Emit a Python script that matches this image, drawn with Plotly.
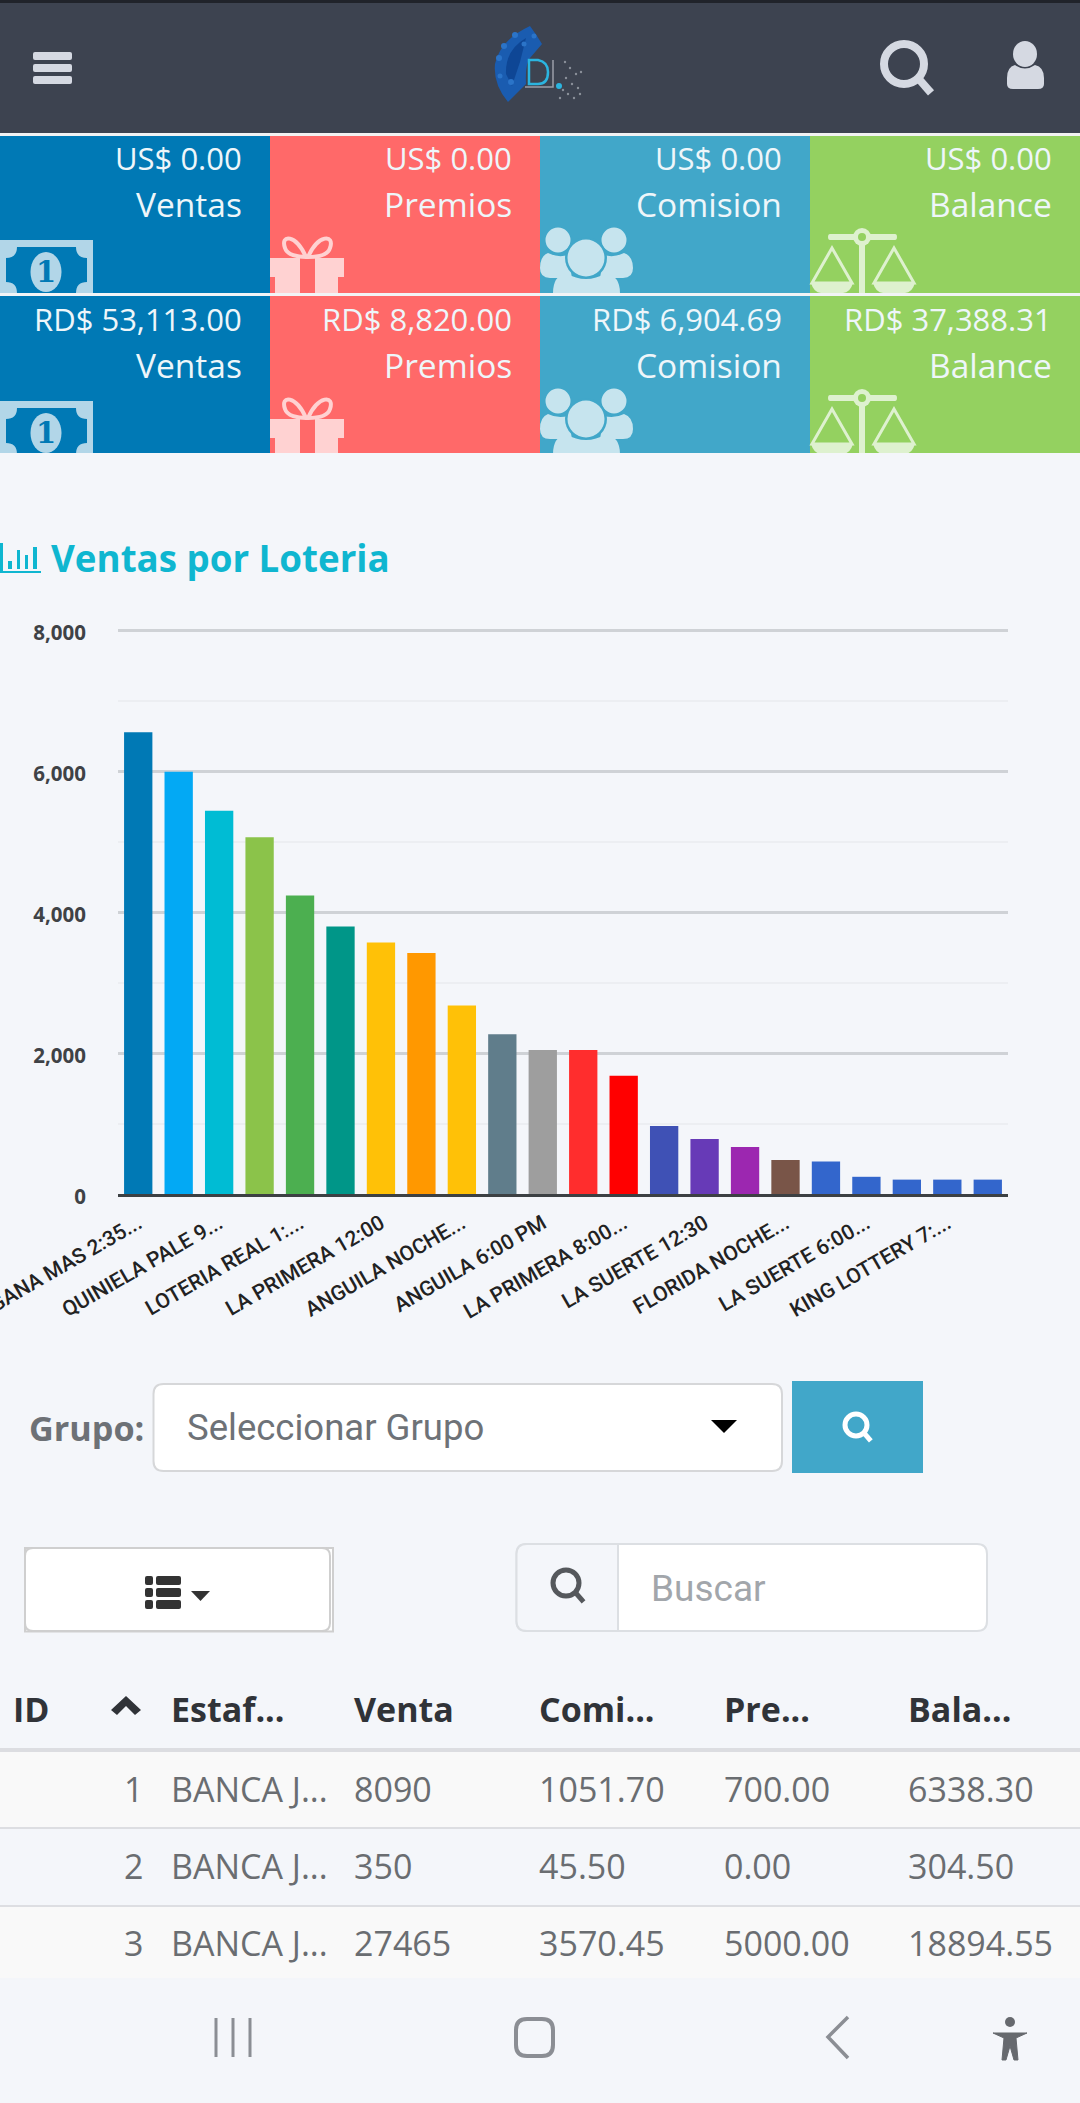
import plotly.graph_objects as go

# chart data
tick_labels = ["GANA MAS 2:35...", "QUINIELA PALE 9...", "LOTERIA REAL 1:...", "LA PRIMERA 12:00",
               "ANGUILA NOCHE...", "ANGUILA 6:00 PM", "LA PRIMERA 8:00...", "LA SUERTE 12:30",
               "FLORIDA NOCHE...", "LA SUERTE 6:00...", "KING LOTTERY 7:..."]
ventas = [6548, 5991, 5435, 5062, 4234, 3793, 3569, 3420, 2673, 2266, 2042, 2042, 1676,
          963, 780, 665, 482, 461, 244, 204, 204, 204]
bar_colors = ["#0079b5", "#03a9f4", "#00bcd4", "#8bc34a", "#4caf50", "#009688", "#ffc107", "#ff9800",
              "#ffc107", "#607d8b", "#9e9e9e", "#ff2d2d", "#ff0000", "#3f51b5", "#673ab7", "#9c27b0",
              "#795548", "#3366cc", "#3366cc", "#3366cc", "#3366cc", "#3366cc"]
y_ticks = [0, 2000, 4000, 6000, 8000]
y_minor = [1000, 3000, 5000, 7000]

# cards
card_titles = ["Ventas", "Premios", "Comision", "Balance"]
card_colors = ["#0079b5", "#ff6969", "#41a7c9", "#94d160"]
usd_values = ["US$ 0.00", "US$ 0.00", "US$ 0.00", "US$ 0.00"]
rd_values = ["RD$ 53,113.00", "RD$ 8,820.00", "RD$ 6,904.69", "RD$ 37,388.31"]

# table
col_names = ["Estaf...", "Venta", "Comi...", "Pre...", "Bala..."]
row_ids = ["1", "2", "3"]
estafetas = ["BANCA J...", "BANCA J...", "BANCA J..."]
t_venta = ["8090", "350", "27465"]
t_comision = ["1051.70", "45.50", "3570.45"]
t_premios = ["700.00", "0.00", "5000.00"]
t_balance = ["6338.30", "304.50", "18894.55"]

W, H = 1080, 2103
BG = "#f4f6fa"
OS = "Open Sans"
NONE = "rgba(0,0,0,0)"

shapes = []
annots = []


# everything around the chart is placed in screen pixels, converted to paper here
def px(x):
    return x / W


def py(y):
    return 1 - y / H


def rect(x0, y0, x1, y1, fill, line=None, w=0):
    shapes.append(dict(type="rect", xref="paper", yref="paper", x0=px(x0), y0=py(y0), x1=px(x1), y1=py(y1),
                       fillcolor=fill, line=dict(color=line or fill, width=w)))


def path(d, fill=None, line=None, w=0, dy=0):
    out = []
    is_x = True
    for tok in d.split():
        if tok.isalpha():
            out.append(tok)
            is_x = True
        elif is_x:
            out.append("%.5f" % px(float(tok)))
            is_x = False
        else:
            out.append("%.5f" % py(float(tok) + dy))
            is_x = True
    shapes.append(dict(type="path", xref="paper", yref="paper", path=" ".join(out),
                       fillcolor=fill or NONE, line=dict(color=line or NONE, width=w)))


def rrect(x0, y0, x1, y1, r, fill, line=None, w=0):
    d = (f"M {x0+r} {y0} L {x1-r} {y0} Q {x1} {y0} {x1} {y0+r} L {x1} {y1-r} Q {x1} {y1} {x1-r} {y1} "
         f"L {x0+r} {y1} Q {x0} {y1} {x0} {y1-r} L {x0} {y0+r} Q {x0} {y0} {x0+r} {y0} Z")
    path(d, fill, line, w)


def oval(cx, cy, rx, ry, fill, line=None, w=0):
    shapes.append(dict(type="circle", xref="paper", yref="paper", x0=px(cx-rx), x1=px(cx+rx), y0=py(cy-ry), y1=py(cy+ry),
                       fillcolor=fill or NONE, line=dict(color=line or NONE, width=w)))


def text(x, y, s, size, color, anchor="left", font=OS, bold=False):
    annots.append(dict(xref="paper", yref="paper", x=px(x), y=py(y), text=f"<b>{s}</b>" if bold else s, showarrow=False,
                       xanchor=anchor, yanchor="middle", borderpad=0,
                       font=dict(family=font, size=size, color=color)))


def tint(c, a=0.7):
    r, g, b = int(c[1:3], 16), int(c[3:5], 16), int(c[5:7], 16)
    return "rgb(%d,%d,%d)" % (r+(255-r)*a, g+(255-g)*a, b+(255-b)*a)


def search_icon(cx, cy, r, w, color):
    oval(cx, cy, r, r, None, color, w)
    path(f"M {cx+r*0.7} {cy+r*0.7} L {cx+r*1.35} {cy+r*1.45}", None, color, w)


def money_icon(dy, c):
    lt = tint(c)
    rect(0, 240+dy, 93, 293+dy, lt)
    path("M 17 247 L 76 247 Q 76 258 87 258 L 87 282 Q 76 282 76 293 L 17 293 Q 17 282 6 282 L 6 258 Q 17 258 17 247 Z", c, dy=dy)
    oval(46, 272+dy, 15.5, 20, lt)
    text(46, 272+dy, "1", 29, c, "center", "DejaVu Serif", True)


def gift_icon(dy, c):
    lt = tint(c)
    rect(270, 258+dy, 344, 277+dy, lt)
    rect(275, 277+dy, 338, 293+dy, lt)
    rect(300, 258+dy, 315, 293+dy, c)
    path("M 306 257 C 296 234 280 234 285 248 C 287 255 298 257 306 257 Z", None, lt, 4, dy)
    path("M 308 257 C 318 234 335 234 330 248 C 328 255 317 257 308 257 Z", None, lt, 4, dy)


def people_icon(dy, c):
    lt = tint(c)
    oval(558, 240+dy, 12.5, 12.5, lt)
    oval(614, 240+dy, 12.5, 12.5, lt)
    path("M 548 253 Q 558 258 568 255 L 572 278 L 550 278 Q 540 278 540 268 Q 540 256 548 253 Z", lt, dy=dy)
    path("M 624 253 Q 614 258 604 255 L 600 278 L 623 278 Q 633 278 633 268 Q 633 256 624 253 Z", lt, dy=dy)
    oval(586, 258+dy, 21, 21, c)
    oval(586, 258+dy, 18.5, 18.5, lt)
    path("M 553 293 Q 553 276 566 273 Q 586 285 606 273 Q 620 276 620 293 Z", lt, dy=dy)


def scale_icon(dy, c):
    lt = tint(c)
    path("M 830 234 L 895 234 Q 897 234 897 237 Q 897 240 895 240 L 830 240 Q 828 240 828 237 Q 828 234 830 234 Z", lt, dy=dy)
    rect(859, 237+dy, 865, 293+dy, lt)
    oval(862, 237+dy, 9, 9, lt)
    oval(862, 237+dy, 4, 4, c)
    for ax, x0, x1 in [(832, 811, 853), (894, 873, 915)]:
        path(f"M {ax} 248 L {x0+1} 283 L {x1-1} 283 Z", None, lt, 3, dy)
        path(f"M {x0} 283 L {x1} 283 Q {x1-3} 293 {x1-10} 293 L {x0+10} 293 Q {x0+3} 293 {x0} 283 Z", lt, dy=dy)


# header
rect(0, 0, W, 133, "#3d4350")
rect(0, 0, W, 3, "#20232a")
rect(0, 133, W, 136, "#f2f2f2")
for y0, y1 in [(52, 60), (64, 72), (76, 84)]:
    rrect(33, y0, 72, y1, 2, "#d5d9e2")
search_icon(904, 64, 20, 8, "#d5d9e2")
oval(1025, 54, 12, 13, "#d5d9e2")
path("M 1015 65 Q 1025 72 1035 65 Q 1044 67 1044 78 L 1044 84 Q 1044 89 1038 89 L 1013 89 Q 1007 89 1007 84 L 1007 78 Q 1007 67 1015 65 Z", "#d5d9e2")
# logo
path("M 530 26 Q 536 34 542 44 L 530 58 Q 525 64 526 84 L 508 102 Q 493 84 495 64 Q 500 40 530 26 Z", "#1a5cb0")
path("M 526 38 Q 505 50 506 74 L 512 86 L 520 62 Z", "#0e4695")
for lx, ly, lr in [(499, 58, 3), (504, 46, 3), (515, 35, 3), (524, 44, 2.5), (511, 82, 3), (500, 76, 2.5), (534, 36, 2.5)]:
    oval(lx, ly, lr, lr, "#2b74c8")
path("M 529 60 L 538 60 Q 548 62 548 72 Q 548 84 538 84 L 529 84 Z", None, "#2bb5e0", 2.5)
path("M 553 60 L 553 87 L 525 87", None, "#9a9fa8", 1.5)
oval(559, 86, 3, 3, "#2bb5e0")
for dx, dy_ in [(565, 62), (570, 68), (576, 74), (581, 72), (566, 78), (572, 84), (578, 88), (568, 94), (574, 98), (563, 90), (580, 94), (560, 98)]:
    oval(dx, dy_, 1.2, 1.2, "#8b9099")

# cards
for i, c in enumerate(card_colors):
    x0 = i * 270
    rect(x0, 136, x0+270, 293, c)
    rect(x0, 296, x0+270, 453, c)
    text(x0+243, 158, usd_values[i], 31, "#eef6fa", "right")
    text(x0+243, 204, card_titles[i], 33.5, "#eef6fa", "right")
    text(x0+243, 319, rd_values[i], 31, "#eef6fa", "right")
    text(x0+243, 365, card_titles[i], 33.5, "#eef6fa", "right")
for dy in [0, 161]:
    money_icon(dy, card_colors[0])
    gift_icon(dy, card_colors[1])
    people_icon(dy, card_colors[2])
    scale_icon(dy, card_colors[3])
rect(0, 293, W, 296, "#f2f4f6")
rect(0, 453, W, 456, BG)

# section title
TITLE = "#0fb6d0"
rect(0, 543, 3, 573, TITLE)
rect(0, 571, 41, 573, TITLE)
for x0, y0, x1 in [(8, 561, 12), (17, 550, 20), (25, 555, 28), (33, 547, 37)]:
    rect(x0, y0, x1, 569, TITLE)
text(50, 558, "Ventas por Loteria", 36.7, TITLE, bold=True)

# filter row
text(28, 1427, "Grupo:", 34.2, "#6d7176", bold=True)
rrect(153.5, 1384, 782, 1471, 10, "#ffffff", "#d6d7d9", 2)
text(186, 1427, "Seleccionar Grupo", 36.5, "#6e7277", font="Roboto")
path("M 711 1420 L 737 1420 L 724 1433 Z", "#000000")
rect(792, 1381, 923, 1473, "#41a7c9")
search_icon(856, 1425, 11, 5, "#ffffff")

# column button and search box
rect(25, 1548, 333, 1631.5, "#ffffff", "#cfcfcf", 2)
rrect(25, 1548, 330, 1631, 8, "#ffffff", "#cfcfcf", 2)
for y0 in [1576, 1588, 1600]:
    rrect(145, y0, 153, y0+9, 2, "#333333")
    rrect(156, y0, 181, y0+9, 2, "#333333")
path("M 191 1591 L 210 1591 L 200.5 1601 Z", "#333333")
rrect(516.5, 1544, 987, 1631, 10, "#ffffff", "#dcdfe3", 2)
path("M 618 1544 L 527 1544 Q 516.5 1544 516.5 1554 L 516.5 1621 Q 516.5 1631 527 1631 L 618 1631 Z", BG, "#dcdfe3", 2)
search_icon(566, 1583, 13, 5, "#55585c")
text(650, 1588, "Buscar", 37, "#a2a6ab", font="Roboto")

# table
col_x = [170, 353, 538, 722.5, 907]
rect(0, 1748, W, 1752, "#dcdde1")
rect(0, 1752, W, 1827, "#f9f9f9")
rect(0, 1827, W, 1829, "#dddee2")
rect(0, 1905, W, 1907, "#dddee2")
rect(0, 1907, W, 1978, "#f9f9f9")
text(12, 1709, "ID", 34, "#303338", bold=True)
path("M 111 1710 L 126 1696 L 141 1710 L 135 1715 L 126 1706 L 117 1715 Z", "#303338")
for x, name in zip(col_x, col_names):
    text(x, 1709, name, 34, "#303338", bold=True)
for k, yc in enumerate([1788.5, 1866, 1943]):
    text(144, yc, row_ids[k], 34, "#6a6d71", "right")
    for x, col in zip(col_x, [estafetas, t_venta, t_comision, t_premios, t_balance]):
        text(x, yc, col[k], 34, "#6a6d71")

# phone nav bar
NAV = "#8b8e94"
for x in [216, 233, 250]:
    rect(x-1.5, 2018, x+1.5, 2057, NAV)
rrect(516, 2019, 553, 2056, 11, None, NAV, 4)
path("M 848 2017 L 828 2037 L 848 2058", None, NAV, 3.5)
oval(1010, 2022, 5, 5, "#66696e")
path("M 993 2033 L 1027 2033 L 1016 2038 L 1018 2060 L 1014 2060 L 1010 2046 L 1006 2060 L 1002 2060 L 1004 2038 Z", "#66696e", "#66696e", 1)

fig = go.Figure()
x_pos = list(range(len(ventas)))
fig.add_trace(go.Bar(x=x_pos, y=ventas, marker=dict(color=bar_colors, line=dict(width=0)), width=0.7, showlegend=False))

fig.update_layout(
    width=W, height=H, margin=dict(l=0, r=0, t=0, b=0), autosize=False,
    paper_bgcolor=BG, plot_bgcolor=BG, showlegend=False, hovermode=False,
    shapes=shapes, annotations=annots,
    xaxis=dict(domain=[118/W, 1008/W], range=[-0.5, 21.5], tickmode="array", tickvals=x_pos[::2], ticktext=tick_labels,
               tickangle=-30, showgrid=False, zeroline=False, showline=True, linecolor="#3c4043", linewidth=3,
               ticks="", ticklabeloverflow="allow", automargin=False, ticklabelstandoff=6,
               tickfont=dict(family="Roboto", size=21, color="#222222", weight=500)),
    # top of range a touch past 8000, plotly drops a gridline sitting right on the edge
    yaxis=dict(domain=[1-1194/H, 1-628.6/H], range=[0, 8020], tickmode="array", tickvals=y_ticks, tickformat=",",
               gridcolor="#cfd2d6", gridwidth=3, zeroline=False, showline=False, ticks="", automargin=False,
               ticklabelstandoff=31, ticklabelshift=3,
               tickfont=dict(family=OS, size=20.5, color="#3f4246", weight="bold"),
               minor=dict(tickmode="array", tickvals=y_minor, showgrid=True, gridcolor="#eceef2", gridwidth=2, ticks="")),
)

fig.write_html("out.html", config=dict(displayModeBar=False),
               post_script="document.body.style.margin='0';document.body.style.background='%s';document.documentElement.style.overflow='hidden';" % BG)
